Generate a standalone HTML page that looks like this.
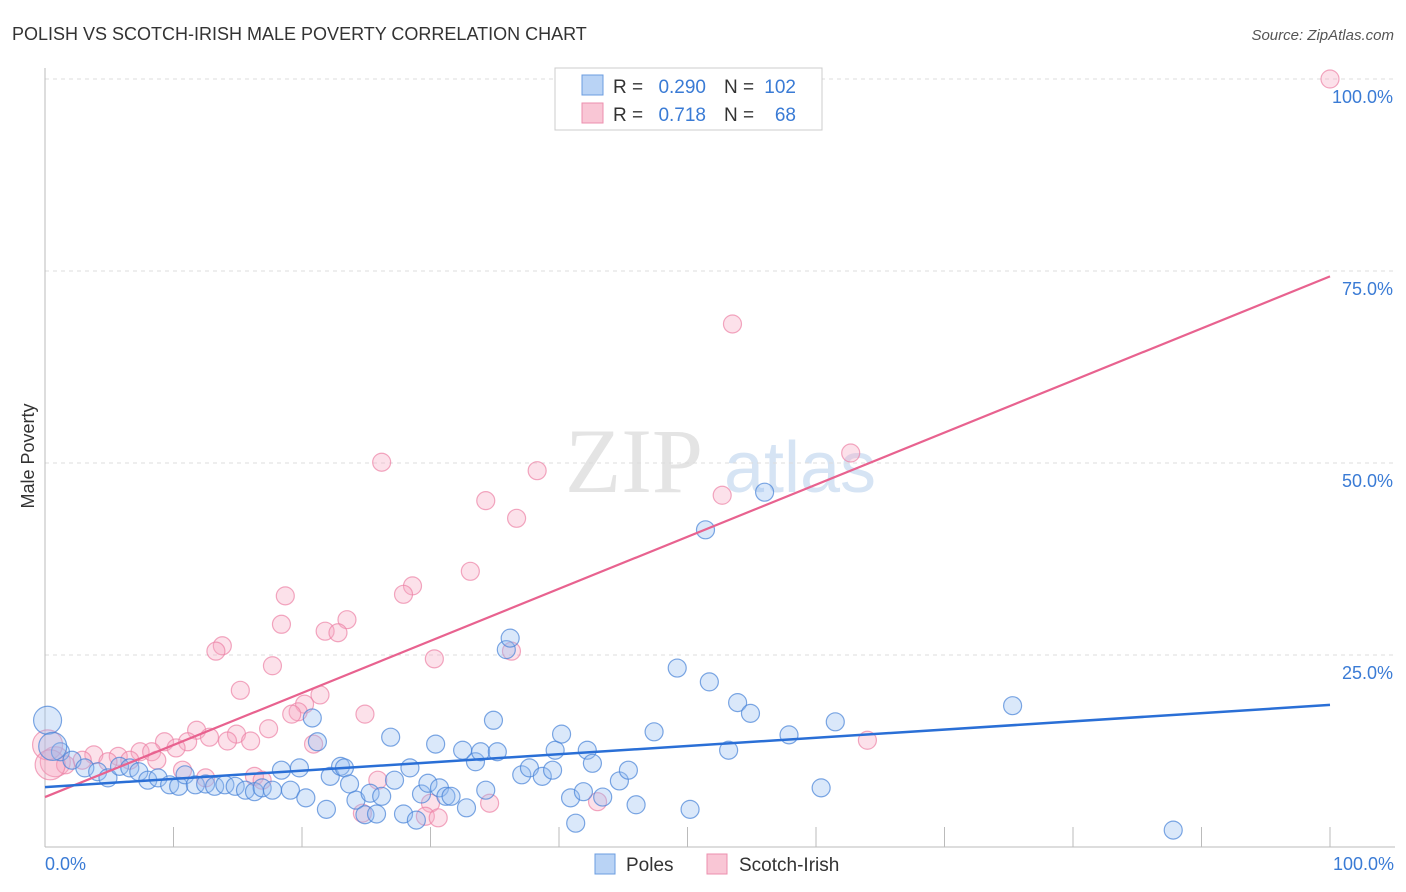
<!DOCTYPE html>
<html><head><meta charset="utf-8"><style>
body{margin:0;background:#fff;font-family:"Liberation Sans",sans-serif}
svg{display:block}
</style></head><body>
<svg width="1406" height="892">
<text x="12" y="40" font-size="18" fill="#333">POLISH VS SCOTCH-IRISH MALE POVERTY CORRELATION CHART</text>
<text x="1394" y="40" font-size="15" fill="#555" font-style="italic" text-anchor="end">Source: ZipAtlas.com</text>
<text x="634" y="492" font-size="92" fill="#e4e4e4" font-family="Liberation Serif" text-anchor="middle">ZIP</text>
<text x="800" y="492" font-size="72" fill="#d6e4f4" text-anchor="middle">atlas</text>
<g id="grid"></g>
<line x1="45" y1="68" x2="45" y2="847" stroke="#bbb"/>
<line x1="45" y1="847" x2="1395" y2="847" stroke="#bbb"/>
<g id="ticks"></g>
<text x="34" y="456" font-size="18" fill="#333" text-anchor="middle" transform="rotate(-90 34 456)">Male Poverty</text>
<g id="pts"></g>
<g id="lines"></g>
<text x="45" y="870" font-size="18" fill="#3a7bd5">0.0%</text>
<text x="1394" y="870" font-size="18" fill="#3a7bd5" text-anchor="end">100.0%</text>
<g>
<rect x="555" y="68" width="267" height="62" fill="#fff" stroke="#ccc"/>
<rect x="582" y="75" width="21" height="20" fill="#b9d3f5" stroke="#6b9de0"/>
<rect x="582" y="103" width="21" height="20" fill="#f9c6d5" stroke="#ec8fae"/>
<text x="613" y="93" font-size="19" fill="#333">R =</text>
<text x="706" y="93" font-size="19" fill="#3a7bd5" text-anchor="end">0.290</text>
<text x="724" y="93" font-size="19" fill="#333">N =</text>
<text x="796" y="93" font-size="19" fill="#3a7bd5" text-anchor="end">102</text>
<text x="613" y="121" font-size="19" fill="#333">R =</text>
<text x="706" y="121" font-size="19" fill="#3a7bd5" text-anchor="end">0.718</text>
<text x="724" y="121" font-size="19" fill="#333">N =</text>
<text x="796" y="121" font-size="19" fill="#3a7bd5" text-anchor="end">68</text>
</g>
<g>
<rect x="595" y="854" width="20" height="20" fill="#b9d3f5" stroke="#6b9de0"/>
<text x="626" y="871" font-size="19" fill="#333">Poles</text>
<rect x="707" y="854" width="20" height="20" fill="#f9c6d5" stroke="#ec8fae"/>
<text x="739" y="871" font-size="19" fill="#333">Scotch-Irish</text>
</g>
</svg>
<script>
const yTicks=[25,50,75,100];
const yTickLabels=["25.0%","50.0%","75.0%","100.0%"];
const xTickVals=[10,20,30,40,50,60,70,80,90,100];
const polesX=[0.2,1.2,2.1,3.1,4.1,4.9,5.8,6.6,7.3,8.0,8.8,9.7,10.4,10.9,11.7,12.5,13.2,14.0,14.8,15.6,16.3,16.9,17.7,18.4,19.1,19.8,20.3,20.8,21.2,21.9,22.2,23.0,23.3,23.7,24.2,24.9,25.3,25.8,26.2,26.9,27.2,27.9,28.4,28.9,29.3,29.8,30.4,30.7,31.2,31.6,32.5,32.8,33.5,33.9,34.3,34.9,35.2,35.9,36.2,37.1,37.7,38.7,39.5,39.7,40.2,40.9,41.3,41.9,42.2,42.6,43.4,44.7,45.4,46.0,47.4,49.2,50.2,51.4,51.7,53.2,53.9,54.9,56.0,57.9,60.4,61.5,75.3,87.8,0.6];
const polesY=[16.5,12.4,11.3,10.3,9.8,9.0,10.5,10.3,9.8,8.7,9.0,8.1,7.9,9.4,8.1,8.2,7.9,8.1,7.9,7.4,7.2,7.7,7.4,10.0,7.4,10.3,6.4,16.8,13.7,4.9,9.2,10.5,10.3,8.2,6.1,4.2,7.0,4.3,6.6,14.3,8.7,4.3,10.3,3.5,6.9,8.3,13.4,7.7,6.6,6.6,12.6,5.1,11.1,12.4,7.4,16.5,12.4,25.7,27.2,9.4,10.3,9.2,10.0,12.6,14.7,6.4,3.1,7.2,12.6,10.9,6.5,8.6,10.0,5.5,15.0,23.3,4.9,41.3,21.5,12.6,18.8,17.4,46.2,14.6,7.7,16.3,18.4,2.2,13.1];
const siX=[100,53.5,62.7,52.7,38.3,26.2,34.3,36.7,33.1,28.6,27.9,18.7,23.5,18.4,21.8,22.8,13.8,13.3,36.3,30.3,17.7,15.2,21.4,20.2,19.7,19.2,24.9,17.4,11.8,14.9,12.8,14.2,16.0,20.9,9.3,11.1,10.2,7.4,8.3,3.8,5.7,6.6,4.9,2.9,8.7,0.8,1.6,10.7,16.3,12.5,16.9,25.9,64.0,30.0,34.6,43.0,24.7,29.6,30.6,0.2,0.4];
const siY=[100,68.1,51.3,45.8,49.0,50.1,45.1,42.8,35.9,34.0,32.9,32.7,29.6,29.0,28.1,27.9,26.2,25.5,25.5,24.5,23.6,20.4,19.8,18.6,17.6,17.3,17.3,15.4,15.2,14.7,14.3,13.8,13.8,13.4,13.7,13.7,12.9,12.4,12.4,12.0,11.8,11.3,11.1,11.3,11.3,11.1,10.7,10.0,9.2,9.0,8.7,8.7,13.9,5.7,5.7,5.9,4.4,4.0,3.8,13.3,10.7];
const polesTrend=[7.8,18.5];
const siTrend=[6.5,74.3];
const NS="http://www.w3.org/2000/svg";
const X=v=>45+v*12.85, Y=v=>847-v*7.68;
function mk(t,a,p){const e=document.createElementNS(NS,t);for(const k in a)e.setAttribute(k,a[k]);p.appendChild(e);return e;}
const grid=document.getElementById('grid');
yTicks.forEach((t,i)=>{
 const l=mk('line',{x1:45,x2:1395,y1:Y(t),y2:Y(t),stroke:'#ddd','stroke-dasharray':'4 4'},grid);
 
 
 const tx=mk('text',{x:1393,y:Y(t)+24,'font-size':18,fill:'#3a7bd5','text-anchor':'end'},grid);
 tx.textContent=yTickLabels[i];
 
 
});
const ticks=document.getElementById('ticks');
xTickVals.forEach(t=>{
 const l=mk('line',{x1:X(t),x2:X(t),y1:827,y2:847,stroke:'#bbb'},ticks);
 
 
});
const pts=document.getElementById('pts');
siX.forEach((x,i)=>{
 const big=x<1;
 const c=mk('circle',{cx:X(x),cy:Y(siY[i]),r:big?15:9,fill:'rgba(246,170,196,0.35)',stroke:'rgba(236,130,165,0.7)','stroke-width':1.2},pts);
 
 
});
polesX.forEach((x,i)=>{
 const big=i===0||i===polesX.length-1;
 const c=mk('circle',{cx:X(x),cy:Y(polesY[i]),r:big?14:9,fill:'rgba(150,190,240,0.35)',stroke:'rgba(70,130,215,0.7)','stroke-width':1.2},pts);
 
 
});
const lines=document.getElementById('lines');
const pl=mk('line',{x1:X(0),y1:Y(siTrend[0]),x2:X(100),y2:Y(siTrend[1]),stroke:'#e8628f','stroke-width':2.2},lines);


const bl=mk('line',{x1:X(0),y1:Y(polesTrend[0]),x2:X(100),y2:Y(polesTrend[1]),stroke:'#2a6fd6','stroke-width':2.5},lines);


</script>
</body></html>
